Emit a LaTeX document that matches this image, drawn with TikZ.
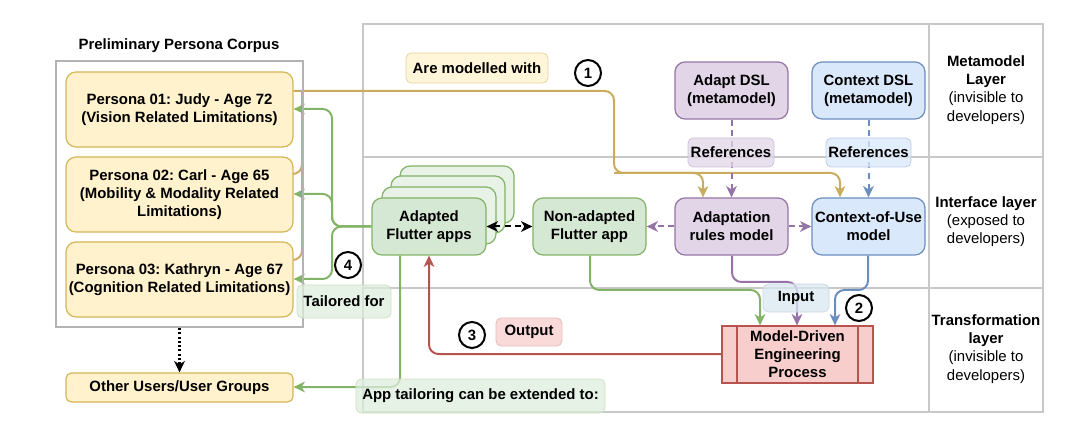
\documentclass[tikz,border=0pt]{standalone}
\usepackage{fontspec}
\setmainfont{Liberation Sans}
\usetikzlibrary{arrows.meta}
\frenchspacing
\definecolor{yfill}{HTML}{FFF2CC}\definecolor{yline}{HTML}{D6B656}
\definecolor{gfill}{HTML}{D5E8D4}\definecolor{gline}{HTML}{82B366}
\definecolor{pfill}{HTML}{E1D5E7}\definecolor{pline}{HTML}{9673A6}
\definecolor{bfill}{HTML}{DAE8FC}\definecolor{bline}{HTML}{6C8EBF}
\definecolor{rfill}{HTML}{F8CECC}\definecolor{rline}{HTML}{B85450}
\definecolor{gridc}{HTML}{C8C8C8}\definecolor{corpc}{HTML}{B3B3B3}
\definecolor{goldc}{HTML}{C9AC5E}
\pgfdeclarelayer{bg}\pgfdeclarelayer{lines}\pgfsetlayers{bg,lines,main}
\tikzset{
  rect/.style n args={4}{at={({(#1+#3)/2},{(#2+#4)/2})}, minimum width={(#3-#1)*0.75pt}, minimum height={(#4-#2)*0.75pt}},
  txt/.style={font=\fontsize{11.2}{13.6}\selectfont, align=center},
  btxt/.style={font=\fontsize{11.2}{13.6}\selectfont\bfseries, align=center},
  box/.style={btxt, rounded corners=7.5pt, line width=0.9pt, inner sep=0pt},
  ybox/.style={box, fill=yfill, draw=yline},
  gbox/.style={box, fill=gfill, draw=gline},
  gbbox/.style={box, fill=gfill!55!white, draw=gline},
  pbox/.style={box, fill=pfill, draw=pline},
  bbox/.style={box, fill=bfill, draw=bline},
  lab/.style={btxt, rounded corners=4pt, line width=0.6pt, inner sep=0pt, fill opacity=0.75, text opacity=1},
  num/.style={circle, draw=black, fill=white, line width=1.5pt, minimum size=19.5pt, inner sep=0pt, font=\fontsize{11.2}{13.6}\selectfont\bfseries},
  conn/.style={line width=1.5pt, rounded corners=7pt},
  tip/.style={-{Stealth[length=8.5pt,width=8pt,inset=2.5pt]}},
  dsh/.style={dash pattern=on 4.5pt off 3.5pt},
  gridl/.style={draw=gridc, line width=1.1pt}
}
\begin{document}
\begin{tikzpicture}[x=0.75pt,y=-0.75pt]
\useasboundingbox (0,0) rectangle (1092,438);
% grid
\begin{pgfonlayer}{bg}
\draw[gridl] (363,24) rectangle (1043,412);
\draw[gridl] (929,24) -- (929,412);
\draw[gridl] (363,157) -- (1043,157);
\draw[gridl] (363,288) -- (1043,288);
\end{pgfonlayer}
% corpus
\node[btxt] (title) at (179,46) {Preliminary Persona Corpus};
\node[draw=corpc, line width=1.5pt, inner sep=0pt, rect={56}{61}{303}{327}] (corpus) {};
\node[ybox, rect={66}{72}{293}{147}] (p1) {Persona 01: Judy - Age 72\\(Vision Related Limitations)};
\node[ybox, rect={66}{157}{293}{232}] (p2) {Persona 02: Carl - Age 65\\(Mobility \& Modality Related\\Limitations)};
\node[ybox, rect={66}{242}{293}{317}] (p3) {Persona 03: Kathryn - Age 67\\(Cognition Related Limitations)};
\node[ybox, rounded corners=4pt, rect={66}{373}{293}{402}] (other) {Other Users/User Groups};
% metamodel layer
\node[lab, fill=yfill, draw=yline!60, rect={406}{53}{548}{83}] (arem) {Are modelled with};
\node[num] (c1) at (588,73) {1};
\node[pbox, rect={675}{62}{788}{119}] (adsl) {Adapt DSL\\(metamodel)};
\node[bbox, rect={812}{62}{925}{119}] (cdsl) {Context DSL\\(metamodel)};
% interface layer
\node[gbbox, rect={400}{166}{514}{223}] (bk3) {};
\node[gbbox, rect={391}{176}{505}{233}] (bk2) {};
\node[gbbox, rect={382}{187}{496}{244}] (bk1) {};
\node[gbox, rect={372}{198}{486}{255}] (adapted) {Adapted\\Flutter apps};
\node[gbox, rect={533}{198}{646}{255}] (nonad) {Non-adapted\\Flutter app};
\node[pbox, rect={675}{198}{788}{255}] (arules) {Adaptation\\rules model};
\node[bbox, rect={812}{198}{925}{255}] (cou) {Context-of-Use\\model};
% transformation layer
\node[rectangle, fill=rfill, draw=rline, line width=0.9pt, inner sep=0pt, btxt, rect={722}{326}{873}{383}] (mde) {Model-Driven\\Engineering\\Process};
\draw[rline, line width=0.9pt] (737,326) -- (737,383) (858,326) -- (858,383);
% right column
\node[txt] (mlay) at (986,90) {\textbf{Metamodel}\\\textbf{Layer}\\(invisible to\\developers)};
\node[txt] (ilay) at (986,222) {\textbf{Interface layer}\\(exposed to\\developers)};
\node[txt] (tlay) at (986,349) {\textbf{Transformation}\\\textbf{layer}\\(invisible to\\developers)};
% connectors
\begin{pgfonlayer}{lines}
\draw[conn, goldc, tip] (p1.east |- 0,91) -- (614,91) -- (614,173) -- (703,173) -- (arules.north -| 703,0);
\draw[conn, goldc, tip] (614,173) -- (840,173) -- (cou.north -| 840,0);
\draw[conn, goldc] (p2.east |- 0,174) -- (302,174) -- (302,91);
\draw[conn, goldc] (p3.east |- 0,260) -- (302,260) -- (302,91);
\draw[conn, pline, dsh, tip] (adsl.south) -- (arules.north);
\draw[conn, bline, dsh, tip] (cdsl.south) -- (cou.north);
\draw[conn, pline, dsh, tip] (arules.west) -- (nonad.east);
\draw[conn, pline, dsh, tip] (arules.east) -- (cou.west);
\draw[conn, gline, tip] (nonad.south -| 590,0) -- (590,290) -- (760,290) -- (mde.north -| 760,0);
\draw[conn, pline, tip] (arules.south -| 732,0) -- (732,282) -- (797,282) -- (mde.north -| 797,0);
\draw[conn, bline, tip] (cou.south -| 868,0) -- (868,290) -- (835,290) -- (mde.north -| 835,0);
\draw[conn, rline, tip] (mde.west |- 0,354) -- (429,354) -- (adapted.south -| 429,0);
\draw[conn, gline, tip] (adapted.west) -- (332,226.5) -- (332,109) -- (p1.east |- 0,109);
\draw[conn, gline, tip] (adapted.west) -- (332,226.5) -- (332,194) -- (p2.east |- 0,194);
\draw[conn, gline, tip] (adapted.west) -- (332,226.5) -- (332,279) -- (p3.east |- 0,279);
\draw[conn, gline, tip] (adapted.south -| 400,0) -- (400,387) -- (other.east |- 0,387);
\draw[line width=1.6pt, black, dash pattern=on 1.6pt off 1.6pt, tip] (corpus.south) -- (other.north);
\end{pgfonlayer}
\draw[conn, black, dsh, {Stealth[length=8.5pt,width=8pt,inset=2.5pt]}-{Stealth[length=8.5pt,width=8pt,inset=2.5pt]}] (adapted.east) -- (nonad.west);
% labels on lines
\node[lab, fill=pfill, draw=pline!45, rect={688}{138}{774}{167}] (ref1) {References};
\node[lab, fill=bfill, draw=bline!45, rect={826}{138}{911}{167}] (ref2) {References};
\node[lab, fill=bfill!70!gfill, draw=bline!35, rect={763}{284}{829}{312}] (input) {Input};
\node[num] (c2) at (859,308) {2};
\node[num] (c3) at (472,335) {3};
\node[lab, fill=rfill, draw=rline!40, rect={496}{318}{562}{346}] (output) {Output};
\node[lab, fill=gfill!80!white, draw=gline!40, rect={297}{285}{391}{318}] (tailored) {Tailored for};
\node[num] (c4) at (348,265) {4};
\node[lab, fill=gfill!80!white, draw=gline!40, rect={356}{379}{605}{413}] (apptail) {App tailoring can be extended to:};
\end{tikzpicture}
\end{document}
